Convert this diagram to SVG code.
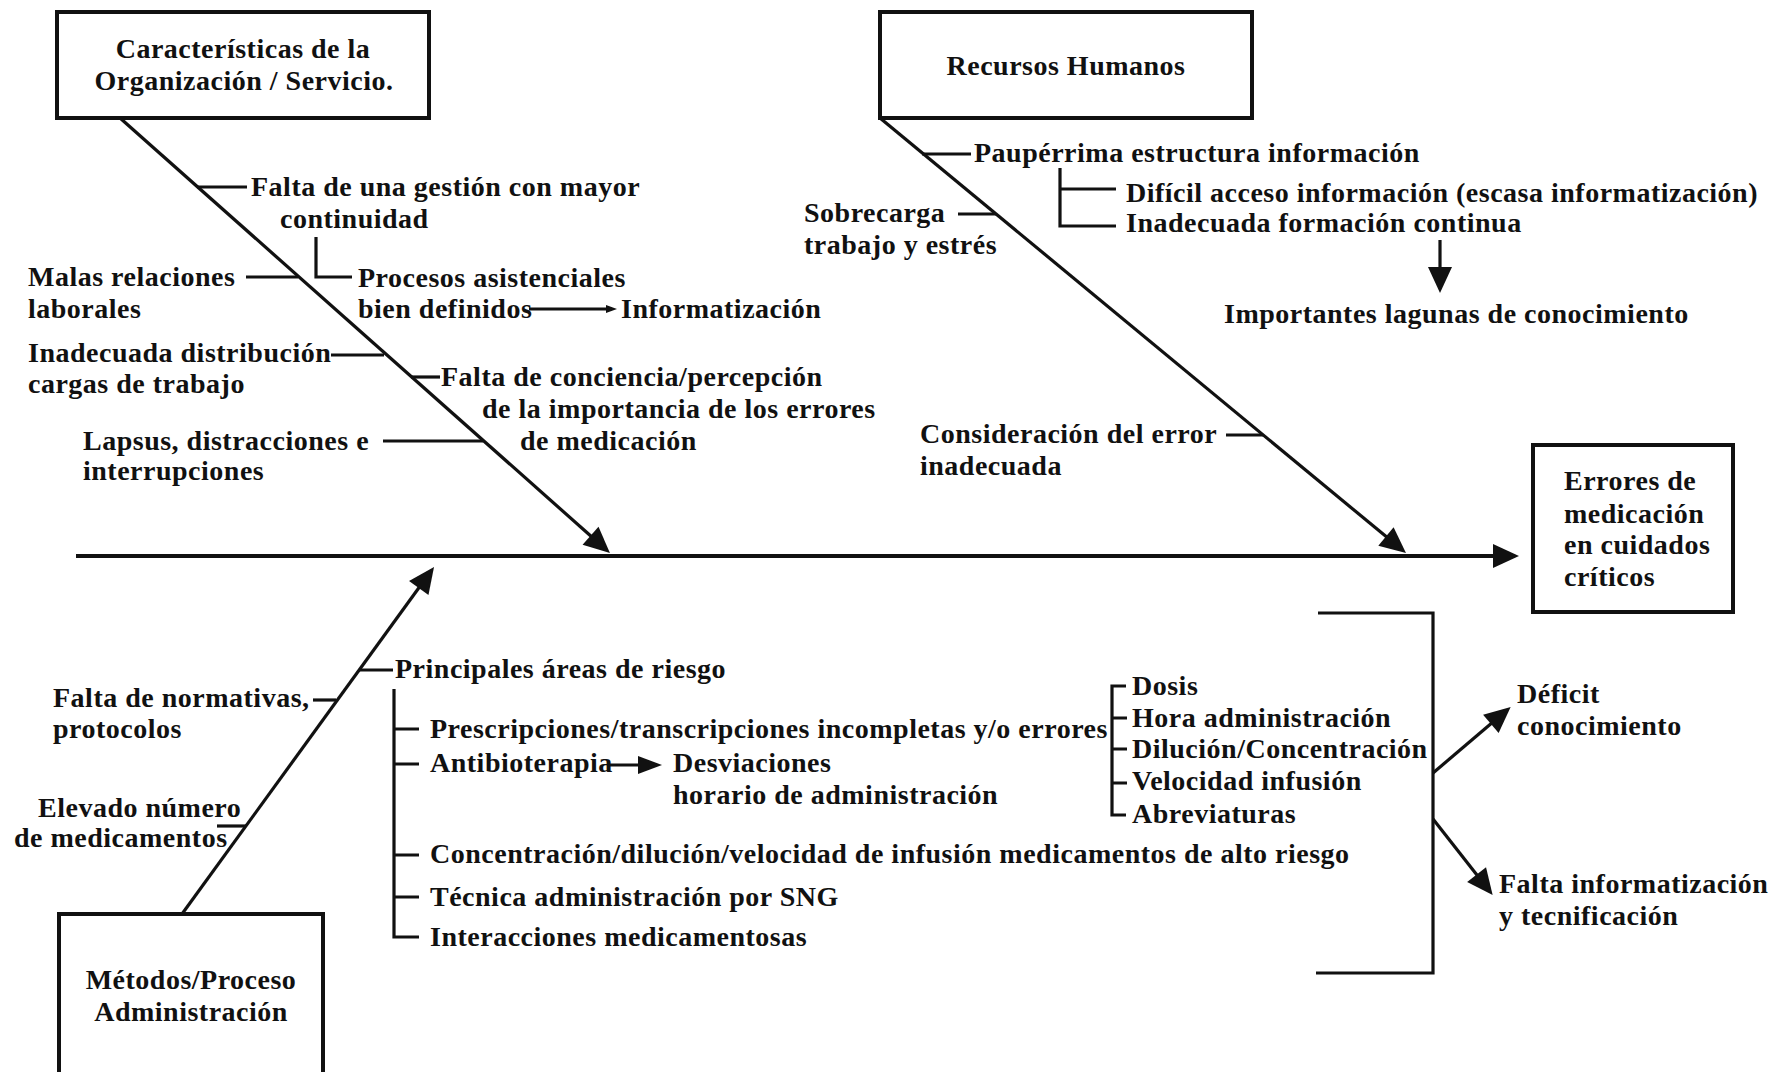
<svg xmlns="http://www.w3.org/2000/svg" width="1778" height="1072" viewBox="0 0 1778 1072">
<style>
text{font-family:"Liberation Serif","Times New Roman",serif;font-weight:bold;font-size:28px;letter-spacing:0.5px;fill:#111}
.c{text-anchor:middle}
.box{fill:#fff;stroke:#111;stroke-width:4}
.ln{fill:none;stroke:#111;stroke-width:3.2}
.ax{fill:none;stroke:#111;stroke-width:4}
</style>
<defs>
<marker id="ah" markerUnits="userSpaceOnUse" markerWidth="32" markerHeight="32" viewBox="-30 -16 32 32" refX="-14" refY="0" orient="auto">
<path d="M-26,-12 L0,0 L-26,12 z" fill="#111"/>
</marker>
<marker id="am" markerUnits="userSpaceOnUse" markerWidth="32" markerHeight="32" viewBox="-30 -16 32 32" refX="-12" refY="0" orient="auto">
<path d="M-24,-9 L0,0 L-24,9 z" fill="#111"/>
</marker>
<marker id="as" markerUnits="userSpaceOnUse" markerWidth="16" markerHeight="16" viewBox="-14 -8 16 16" refX="-5" refY="0" orient="auto">
<path d="M-11,-4 L0,0 L-11,4 z" fill="#111"/>
</marker>
</defs>
<rect width="1778" height="1072" fill="#fff"/>

<g id="connectors">
<line class="ax" x1="76" y1="556" x2="1505" y2="556" marker-end="url(#ah)"/>
<line class="ln" x1="120" y1="118" x2="599.5" y2="543.7" marker-end="url(#ah)"/>
<line class="ln" x1="880" y1="118" x2="1395.2" y2="544.1" marker-end="url(#ah)"/>
<line class="ln" x1="182" y1="914" x2="425.8" y2="578.3" marker-end="url(#ah)"/>
<line class="ln" x1="197" y1="187" x2="247" y2="187"/>
<path class="ln" d="M316,237 V277 H352"/>
<line class="ln" x1="529" y1="309" x2="612" y2="309" marker-end="url(#as)"/>
<line class="ln" x1="246" y1="277" x2="298" y2="277"/>
<line class="ln" x1="331" y1="355" x2="384" y2="355"/>
<line class="ln" x1="411" y1="377" x2="440" y2="377"/>
<line class="ln" x1="383" y1="441" x2="483" y2="441"/>
<line class="ln" x1="922" y1="154" x2="971" y2="154"/>
<path class="ln" d="M1060,168 V226 H1116 M1060,189 H1116"/>
<line class="ln" x1="1440" y1="240" x2="1440" y2="279" marker-end="url(#ah)"/>
<line class="ln" x1="958" y1="214" x2="996" y2="214"/>
<line class="ln" x1="1226" y1="435" x2="1263" y2="435"/>
<line class="ln" x1="359" y1="670" x2="393" y2="670"/>
<path class="ln" d="M394,689 V937 H419 M394,729 H419 M394,764 H419 M394,855 H419 M394,897 H419"/>
<line class="ln" x1="610" y1="765" x2="650" y2="765" marker-end="url(#am)"/>
<line class="ln" x1="313" y1="700" x2="336" y2="700"/>
<line class="ln" x1="217" y1="826" x2="246" y2="826"/>
<path class="ln" d="M1126,686 H1112 V815 H1126 M1112,718 H1127 M1112,749 H1127 M1112,783 H1127"/>
<path class="ln" d="M1318,613 H1433 V973 H1316"/>
<line class="ln" x1="1433" y1="773" x2="1500" y2="716" marker-end="url(#ah)"/>
<line class="ln" x1="1433" y1="819" x2="1484" y2="884" marker-end="url(#ah)"/>
</g>

<g id="n-organizacion">
<rect class="box" x="57" y="12" width="372" height="106"/>
<text class="c" x="243" y="58">Características de la</text>
<text class="c" x="244" y="90">Organización / Servicio.</text>
</g>
<g id="n-rrhh">
<rect class="box" x="880" y="12" width="372" height="106"/>
<text class="c" x="1066" y="75">Recursos Humanos</text>
</g>
<g id="n-errores">
<rect class="box" x="1533" y="445" width="200" height="167"/>
<text x="1564" y="490">Errores de</text>
<text x="1564" y="523">medicación</text>
<text x="1564" y="554">en cuidados</text>
<text x="1564" y="586">críticos</text>
</g>
<g id="n-metodos">
<rect class="box" x="59" y="914" width="264" height="175"/>
<text class="c" x="191" y="989">Métodos/Proceso</text>
<text class="c" x="191" y="1021">Administración</text>
</g>

<g id="labels-organizacion">
<text x="251" y="196">Falta de una gestión con mayor</text>
<text x="280" y="228">continuidad</text>
<text x="358" y="287">Procesos asistenciales</text>
<text x="358" y="318">bien definidos</text>
<text x="621" y="318">Informatización</text>
<text x="28" y="286">Malas relaciones</text>
<text x="28" y="318">laborales</text>
<text x="28" y="362">Inadecuada distribución</text>
<text x="28" y="393">cargas de trabajo</text>
<text x="441" y="386">Falta de conciencia/percepción</text>
<text x="482" y="418">de la importancia de los errores</text>
<text x="520" y="450">de medicación</text>
<text x="83" y="450">Lapsus, distracciones e</text>
<text x="83" y="480">interrupciones</text>
</g>
<g id="labels-rrhh">
<text x="974" y="162">Paupérrima estructura información</text>
<text x="1126" y="202">Difícil acceso información (escasa informatización)</text>
<text x="1126" y="232">Inadecuada formación continua</text>
<text x="1224" y="323">Importantes lagunas de conocimiento</text>
<text x="804" y="222">Sobrecarga</text>
<text x="804" y="254">trabajo y estrés</text>
<text x="920" y="443">Consideración del error</text>
<text x="920" y="475">inadecuada</text>
</g>
<g id="labels-metodos">
<text x="395" y="678">Principales áreas de riesgo</text>
<text x="430" y="738">Prescripciones/transcripciones incompletas y/o errores</text>
<text x="430" y="772">Antibioterapia</text>
<text x="673" y="772">Desviaciones</text>
<text x="673" y="804">horario de administración</text>
<text x="430" y="863">Concentración/dilución/velocidad de infusión medicamentos de alto riesgo</text>
<text x="430" y="906">Técnica administración por SNG</text>
<text x="430" y="946">Interacciones medicamentosas</text>
<text x="53" y="707">Falta de normativas,</text>
<text x="53" y="738">protocolos</text>
<text x="38" y="817">Elevado número</text>
<text x="14" y="847">de medicamentos</text>
</g>
<g id="labels-errores">
<text x="1132" y="695">Dosis</text>
<text x="1132" y="727">Hora administración</text>
<text x="1132" y="758">Dilución/Concentración</text>
<text x="1132" y="790">Velocidad infusión</text>
<text x="1132" y="823">Abreviaturas</text>
<text x="1517" y="703">Déficit</text>
<text x="1517" y="735">conocimiento</text>
<text x="1499" y="893">Falta informatización</text>
<text x="1499" y="925">y tecnificación</text>
</g>
</svg>
